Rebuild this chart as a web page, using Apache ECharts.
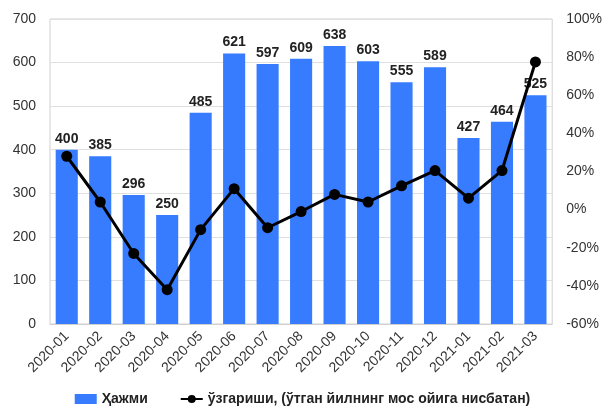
<!DOCTYPE html>
<html>
<head>
<meta charset="utf-8">
<script src="https://cdn.jsdelivr.net/npm/echarts@6/dist/echarts.min.js"></script>
<style>
  html, body { margin: 0; padding: 0; background: #fff; }
  #chart { width: 605px; height: 409px; }
</style>
</head>
<body>
<div id="chart"></div>
<script>
// 数据
const months = ['2020-01', '2020-02', '2020-03', '2020-04', '2020-05', '2020-06', '2020-07', '2020-08',
    '2020-09', '2020-10', '2020-11', '2020-12', '2021-01', '2021-02', '2021-03'];
const volume = [400, 385, 296, 250, 485, 621, 597, 609, 638, 603, 555, 589, 427, 464, 525];
const change = [28, 4, -23, -42, -10.5, 11, -9.5, -1, 8, 4, 12.5, 20.5, 6, 20.5, 77.5];

const barName = 'Ҳажми';
const lineName = 'ўзгариши, (ўтган йилнинг мос ойига нисбатан)';

const chart = echarts.init(document.getElementById('chart'));

const fontFamily = 'Liberation Sans, Arial, sans-serif';

chart.setOption({
    animation: false,
    textStyle: { fontFamily: fontFamily },
    grid: {
        left: 50,
        right: 50,
        top: 19,
        bottom: 85,
        show: true,
        borderColor: '#d0d0d0',
        borderWidth: 1
    },
    legend: {
        top: 387,
        left: 'center',
        itemGap: 32,
        itemWidth: 22,
        itemHeight: 10,
        textStyle: { fontSize: 14, fontWeight: 'bold', color: '#222' },
        data: [
            { name: barName, icon: 'rect' },
            { name: lineName }
        ]
    },
    xAxis: {
        type: 'category',
        data: months,
        axisLine: { show: true, lineStyle: { color: '#d0d0d0' } },
        axisTick: { show: false },
        axisLabel: {
            rotate: 45,
            fontSize: 14,
            color: '#333',
            margin: 10,
            interval: 0
        }
    },
    yAxis: [
        {
            type: 'value',
            min: 0,
            max: 700,
            interval: 100,
            axisLine: { show: false },
            axisTick: { show: false },
            axisLabel: { fontSize: 14, color: '#333', margin: 14 },
            splitLine: { lineStyle: { color: '#e0e0e0' } }
        },
        {
            type: 'value',
            min: -60,
            max: 100,
            interval: 20,
            axisLine: { show: false },
            axisTick: { show: false },
            axisLabel: { fontSize: 14, color: '#333', margin: 14, formatter: '{value}%' },
            splitLine: { show: false }
        }
    ],
    series: [
        {
            name: barName,
            type: 'bar',
            data: volume,
            barWidth: '66%',
            itemStyle: { color: '#377bff' },
            label: {
                show: true,
                position: 'top',
                fontSize: 14,
                fontWeight: 'bold',
                color: '#222',
                distance: 4
            }
        },
        {
            name: lineName,
            type: 'line',
            yAxisIndex: 1,
            data: change,
            symbol: 'circle',
            symbolSize: 11,
            itemStyle: { color: '#000' },
            lineStyle: { color: '#000', width: 3 }
        }
    ]
});
</script>
</body>
</html>
